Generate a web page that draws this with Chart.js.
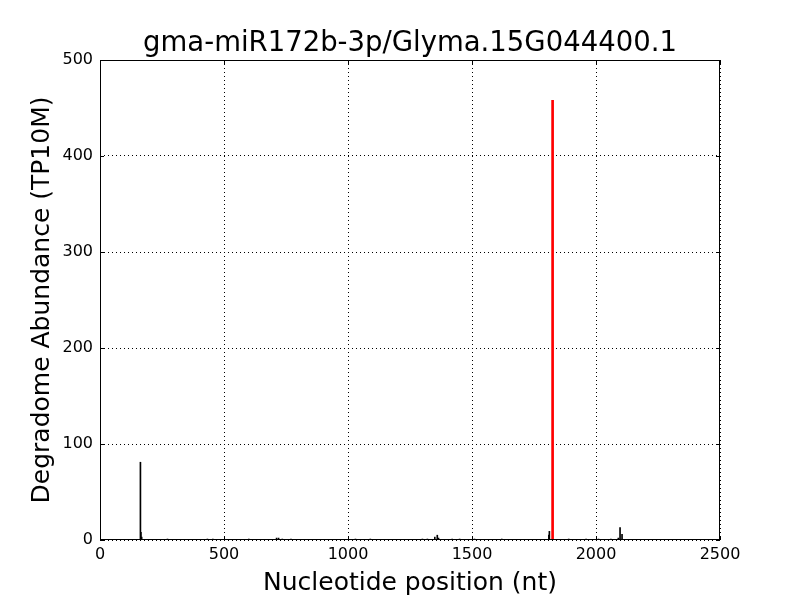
<!DOCTYPE html>
<html>
<head>
<meta charset="utf-8">
<script src="https://cdn.jsdelivr.net/npm/chart.js@4/dist/chart.umd.min.js"></script>
<style>
  body { margin: 0; background: #fff; }
</style>
</head>
<body>
<canvas id="degChart" width="800" height="600"></canvas>
<script>
// positions (nt) and abundance
const positions = [163, 165, 168, 272, 433, 455, 600, 712, 720, 735, 770, 1030, 1090, 1300, 1320, 1350, 1360, 1365, 1420, 1450, 1510, 1620, 1810, 1812, 1890, 1960, 2010, 2060, 2090, 2097, 2105];
const abundance = [81, 8, 3, 1, 1, 1, 1, 2, 2, 1, 1, 1, 1, 1, 1, 3, 5, 2, 1, 1, 1, 1, 5, 9, 1, 1, 1, 1, 2, 13, 6];
const targetPos = [1825];
const targetVal = [458];
const xTicks = [0, 500, 1000, 1500, 2000, 2500];
const yTicks = [0, 100, 200, 300, 400, 500];
const titleText = 'gma-miR172b-3p/Glyma.15G044400.1';

const font = "'DejaVu Sans', sans-serif";

// black frame, inward ticks and title centred over the plot area
const framePlugin = {
    id: 'frame',
    afterDraw(chart) {
        const { ctx, chartArea: a, scales } = chart;
        ctx.save();
        ctx.strokeStyle = '#000';
        ctx.lineWidth = 1;
        ctx.strokeRect(a.left + 0.5, a.top + 0.5, a.right - a.left - 1, a.bottom - a.top - 1);
        ctx.beginPath();
        xTicks.forEach(v => {
            const x = Math.round(scales.x.getPixelForValue(v)) + 0.5;
            ctx.moveTo(x, a.bottom); ctx.lineTo(x, a.bottom - 4);
            ctx.moveTo(x, a.top); ctx.lineTo(x, a.top + 4);
        });
        yTicks.forEach(v => {
            const y = Math.round(scales.y.getPixelForValue(v)) + 0.5;
            ctx.moveTo(a.left, y); ctx.lineTo(a.left + 4, y);
            ctx.moveTo(a.right, y); ctx.lineTo(a.right - 4, y);
        });
        ctx.stroke();
        ctx.fillStyle = '#000';
        ctx.font = "27.5px 'DejaVu Sans', sans-serif";
        ctx.textAlign = 'center';
        ctx.textBaseline = 'middle';
        ctx.fillText(titleText, (a.left + a.right) / 2, 44);
        ctx.restore();
    }
};

new Chart(document.getElementById('degChart'), {
    type: 'bar',
    data: {
        datasets: [{
            data: positions.map((p, i) => ({ x: p, y: abundance[i] })),
            backgroundColor: '#000',
            barThickness: 1,
            grouped: false
        }, {
            data: targetPos.map((p, i) => ({ x: p, y: targetVal[i] })),
            backgroundColor: '#ff0000',
            barThickness: 2,
            grouped: false
        }]
    },
    options: {
        responsive: false,
        animation: false,
        layout: { padding: { left: 0, right: 80, top: 60, bottom: 0 } },
        plugins: {
            legend: { display: false },
            tooltip: { enabled: false },
            title: { display: false }
        },
        scales: {
            x: {
                type: 'linear',
                min: 0,
                max: 2500,
                offset: false,
                afterFit(s) { s.height = 60; },
                afterBuildTicks(s) { s.ticks = xTicks.map(v => ({ value: v })); },
                ticks: {
                    color: '#000', font: { family: font, size: 16 }, padding: 5,
                    maxRotation: 0, minRotation: 0, callback: v => String(v)
                },
                grid: { color: '#000', lineWidth: 1, drawTicks: false, offset: false },
                border: { display: false, dash: [1, 3] },
                title: {
                    display: true,
                    text: 'Nucleotide position (nt)',
                    color: '#000',
                    font: { family: font, size: 25 },
                    padding: { top: 0, bottom: 2 }
                }
            },
            y: {
                min: 0,
                max: 500,
                afterFit(s) { s.width = 100; },
                afterBuildTicks(s) { s.ticks = yTicks.map(v => ({ value: v })); },
                ticks: { color: '#000', font: { family: font, size: 16 }, padding: 7, callback: v => String(v) },
                grid: { color: '#000', lineWidth: 1, drawTicks: false },
                border: { display: false, dash: [1, 3] },
                title: {
                    display: true,
                    text: 'Degradome Abundance (TP10M)',
                    color: '#000',
                    font: { family: font, size: 25 },
                    padding: { top: 27, bottom: 0 }
                }
            }
        }
    },
    plugins: [framePlugin]
});
</script>
</body>
</html>
